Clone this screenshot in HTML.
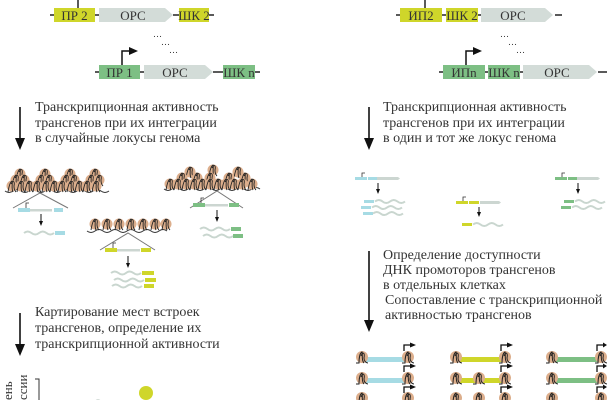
<!DOCTYPE html>
<html><head><meta charset="utf-8"><style>
html,body{margin:0;padding:0;background:#fff;width:607px;height:400px;overflow:hidden}
svg{display:block}
text{font-family:"Liberation Serif",serif;fill:#333}
.t{font-size:14px}
.b{font-size:13px;fill:#333}
</style></head><body>
<svg width="607" height="400" viewBox="0 0 607 400" xmlns="http://www.w3.org/2000/svg">
<defs>
<g id="n"><circle cx="0" cy="0" r="5.5" fill="#dcae8c"/><path d="M-4,6 C-3,0 -2,-4 0,-5 C1,-4 -1,2 1,6 M-1,-2 C1,-6 3,-5 2,0 C2,3 3,5 4,6" stroke="#222" stroke-width="0.9" fill="none"/></g>
<g id="sn"><circle cx="0" cy="0" r="6" fill="#dcae8c"/><path d="M-6,6 L-3,6 C-3,1 -2,-4 0,-5 C1,-3 -1,3 2,6 M-1,-1 C1,-6 3,-4 2,1 C2,4 4,6 6,6" stroke="#222" stroke-width="1" fill="none"/></g>
<path id="w" d="M0,0 q3.75,-3 7.5,0 t7.5,0 t7.5,0 t7.5,0" stroke="#c9d6cf" stroke-width="2" fill="none"/>
</defs>

<g stroke="#222" stroke-width="1.5">
<line x1="78" y1="0" x2="78" y2="8"/>
<line x1="50" y1="15" x2="54" y2="15"/><line x1="95" y1="15" x2="99" y2="15"/><line x1="173" y1="15" x2="179" y2="15"/><line x1="209" y1="15" x2="214" y2="15"/>
<line x1="95" y1="72" x2="99" y2="72"/><line x1="140" y1="72" x2="144" y2="72"/><line x1="213" y1="72" x2="223" y2="72"/><line x1="255" y1="72" x2="260" y2="72"/>
</g>
<rect x="54" y="8" width="41" height="14" fill="#cfd62a"/>
<polygon points="99,8 165,8 173,15 165,22 99,22" fill="#d3dcd8"/>
<rect x="179" y="8" width="30" height="14" fill="#cfd62a"/>
<text class="b" x="74.5" y="20" text-anchor="middle">ПР 2</text>
<text class="b" x="133" y="20" text-anchor="middle">ОРС</text>
<text class="b" x="194" y="20" text-anchor="middle">ШК 2</text>
<rect x="99" y="65" width="41" height="14" fill="#7dbf84"/>
<polygon points="144,65 205,65 213,72 205,79 144,79" fill="#d3dcd8"/>
<rect x="223" y="65" width="32" height="14" fill="#7dbf84"/>
<text class="b" x="119.5" y="77" text-anchor="middle">ПР 1</text>
<text class="b" x="175" y="77" text-anchor="middle">ОРС</text>
<text class="b" x="239" y="77" text-anchor="middle">ШК n</text>
<path d="M122,65 V51 H130" stroke="#111" stroke-width="1.5" fill="none"/><polygon points="129,47 138,51 129,55" fill="#111"/>
<text x="153" y="37" font-size="9">…</text><text x="161" y="45" font-size="9">…</text><text x="169" y="53" font-size="9">…</text>

<g stroke="#222" stroke-width="1.5">
<line x1="425" y1="0" x2="425" y2="8"/>
<line x1="396" y1="15" x2="400" y2="15"/><line x1="442" y1="15" x2="446" y2="15"/><line x1="478" y1="15" x2="481" y2="15"/><line x1="555" y1="15" x2="562" y2="15"/>
<line x1="439" y1="72" x2="443" y2="72"/><line x1="485" y1="72" x2="488" y2="72"/><line x1="520" y1="72" x2="523" y2="72"/><line x1="598" y1="72" x2="607" y2="72"/>
</g>
<rect x="400" y="8" width="42" height="14" fill="#cfd62a"/>
<rect x="446" y="8" width="32" height="14" fill="#cfd62a"/>
<polygon points="481,8 545,8 553,15 545,22 481,22" fill="#d3dcd8"/>
<text class="b" x="421" y="20" text-anchor="middle">ИП2</text>
<text class="b" x="462" y="20" text-anchor="middle">ШК 2</text>
<text class="b" x="513" y="20" text-anchor="middle">ОРС</text>
<rect x="443" y="65" width="42" height="14" fill="#7dbf84"/>
<rect x="488" y="65" width="32" height="14" fill="#7dbf84"/>
<polygon points="523,65 589,65 597,72 589,79 523,79" fill="#d3dcd8"/>
<text class="b" x="464" y="77" text-anchor="middle">ИПn</text>
<text class="b" x="504" y="77" text-anchor="middle">ШК n</text>
<text class="b" x="557" y="77" text-anchor="middle">ОРС</text>
<path d="M466,65 V51 H474" stroke="#111" stroke-width="1.5" fill="none"/><polygon points="473,47 482,51 473,55" fill="#111"/>
<text x="500" y="37" font-size="9">…</text><text x="508" y="45" font-size="9">…</text><text x="516" y="53" font-size="9">…</text>

<g stroke="#111" stroke-width="1.6">
<line x1="20" y1="107" x2="20" y2="140"/><line x1="20" y1="313" x2="20" y2="346"/>
<line x1="369" y1="107" x2="369" y2="140"/><line x1="369" y1="251" x2="369" y2="322"/>
</g>
<polygon points="15,138 25,138 20,150" fill="#111"/>
<polygon points="15,344 25,344 20,356" fill="#111"/>
<polygon points="364,138 374,138 369,150" fill="#111"/>
<polygon points="364,320 374,320 369,332" fill="#111"/>

<text class="t" x="35" y="111">Транскрипционная активность</text>
<text class="t" x="35" y="127">трансгенов при их интеграции</text>
<text class="t" x="35" y="142">в случайные локусы генома</text>
<text class="t" x="383" y="111">Транскрипционная активность</text>
<text class="t" x="383" y="127">трансгенов при их интеграции</text>
<text class="t" x="383" y="142">в один и тот же локус генома</text>
<text class="t" x="35" y="316">Картирование мест встроек</text>
<text class="t" x="35" y="332">трансгенов, определение их</text>
<text class="t" x="35" y="348">транскрипционной активности</text>
<text class="t" x="383" y="259">Определение доступности</text>
<text class="t" x="383" y="274">ДНК промоторов трансгенов</text>
<text class="t" x="383" y="289">в отдельных клетках</text>
<text class="t" x="385" y="304">Сопоставление с транскрипционной</text>
<text class="t" x="385" y="319">активностью трансгенов</text>

<path d="M5,191 q4,3 8,0 t8,0 t8,0 t8,0 t8,0 t8,0 t8,0 t8,0 t8,0 t8,0 t8,0 t8,0 t8,0" stroke="#333" stroke-width="1" fill="none"/>
<g>
<use href="#n" x="20" y="174"/><use href="#n" x="45" y="174"/><use href="#n" x="70" y="174"/><use href="#n" x="95" y="174"/>
<use href="#n" x="16" y="180"/><use href="#n" x="24" y="180"/><use href="#n" x="41" y="180"/><use href="#n" x="49" y="180"/><use href="#n" x="66" y="180"/><use href="#n" x="74" y="180"/><use href="#n" x="91" y="180"/><use href="#n" x="99" y="180"/>
<use href="#n" x="12" y="186"/><use href="#n" x="21" y="186"/><use href="#n" x="29" y="186"/><use href="#n" x="37" y="186"/><use href="#n" x="46" y="186"/><use href="#n" x="54" y="186"/><use href="#n" x="62" y="186"/><use href="#n" x="71" y="186"/><use href="#n" x="79" y="186"/><use href="#n" x="87" y="186"/><use href="#n" x="96" y="186"/>
</g>
<path d="M13,208 L40,193 L68,208" stroke="#777" stroke-width="1" fill="none"/>
<rect x="18" y="208" width="12" height="4" fill="#a6dbe4"/><rect x="30" y="209" width="22" height="2.5" fill="#ccd6d1"/><rect x="54" y="208" width="9" height="4" fill="#a6dbe4"/>
<path d="M26,208 V203 H29" stroke="#333" stroke-width="0.8" fill="none"/>
<line x1="41" y1="214" x2="41" y2="222" stroke="#111"/><polygon points="39,221 43,221 41,226" fill="#111"/>
<use href="#w" x="24" y="233"/><rect x="55" y="231" width="10" height="4" fill="#a6dbe4"/>

<path d="M164,189 q4,3 8,0 t8,0 t8,0 t8,0 t8,0 t8,0 t8,0 t8,0 t8,0 t8,0 t8,0 t8,0" stroke="#333" stroke-width="1" fill="none"/>
<use href="#n" x="190" y="172"/><use href="#n" x="213" y="170"/><use href="#n" x="238" y="172"/>
<use href="#n" x="182" y="178"/><use href="#n" x="197" y="178"/><use href="#n" x="210" y="178"/><use href="#n" x="229" y="178"/><use href="#n" x="245" y="178"/>
<use href="#n" x="170" y="184"/><use href="#n" x="178" y="184"/><use href="#n" x="186" y="184"/><use href="#n" x="194" y="184"/><use href="#n" x="202" y="184"/><use href="#n" x="210" y="184"/><use href="#n" x="218" y="184"/><use href="#n" x="226" y="184"/><use href="#n" x="234" y="184"/><use href="#n" x="242" y="184"/><use href="#n" x="252" y="184"/>
<path d="M190,208 L217,191 L243,208" stroke="#777" stroke-width="1" fill="none"/>
<rect x="193" y="203" width="12" height="4" fill="#7dbf84"/><rect x="205" y="204" width="23" height="2.5" fill="#ccd6d1"/><rect x="229" y="203" width="10" height="4" fill="#7dbf84"/>
<path d="M201,203 V198 H204" stroke="#333" stroke-width="0.8" fill="none"/>
<line x1="217" y1="210" x2="217" y2="218" stroke="#111"/><polygon points="215,217 219,217 217,222" fill="#111"/>
<use href="#w" x="200" y="229"/><rect x="231" y="227" width="10" height="4" fill="#7dbf84"/>
<use href="#w" x="203" y="236"/><rect x="233" y="234" width="10" height="4" fill="#7dbf84"/>

<path d="M87,231 q4,3 8,0 t8,0 t8,0 t8,0 t8,0 t8,0 t8,0 t8,0 t8,0 t8,0" stroke="#333" stroke-width="1" fill="none"/>
<use href="#n" x="95" y="224"/><use href="#n" x="107" y="224"/><use href="#n" x="119" y="224"/><use href="#n" x="131" y="224"/><use href="#n" x="143" y="224"/><use href="#n" x="155" y="224"/><use href="#n" x="166" y="224"/>
<path d="M100,250 L128,233 L155,250" stroke="#777" stroke-width="1" fill="none"/>
<rect x="105" y="248" width="12" height="4" fill="#cfd62a"/><rect x="117" y="249" width="23" height="2.5" fill="#ccd6d1"/><rect x="141" y="248" width="10" height="4" fill="#cfd62a"/>
<path d="M113,248 V243 H116" stroke="#333" stroke-width="0.8" fill="none"/>
<line x1="128" y1="256" x2="128" y2="264" stroke="#111"/><polygon points="126,263 130,263 128,268" fill="#111"/>
<use href="#w" x="111" y="273"/><rect x="142" y="271" width="12" height="4" fill="#cfd62a"/>
<use href="#w" x="114" y="280"/><rect x="145" y="278" width="11" height="4" fill="#cfd62a"/>
<use href="#w" x="112" y="286"/><rect x="144" y="284" width="10" height="4" fill="#cfd62a"/>

<g>
<rect x="355" y="177" width="12" height="3" fill="#a6dbe4"/><rect x="368" y="177" width="9" height="3" fill="#a6dbe4"/><polygon points="377,177 398,177 400,178.5 398,180 377,180" fill="#ccd6d1"/>
<path d="M362,177 V173 H365" stroke="#333" stroke-width="0.8" fill="none"/>
<line x1="378" y1="183" x2="378" y2="190" stroke="#111"/><polygon points="376,189 380,189 378,194" fill="#111"/>
<rect x="364" y="200" width="10" height="3" fill="#a6dbe4"/><use href="#w" x="375" y="201.5"/>
<rect x="361" y="206" width="10" height="3" fill="#a6dbe4"/><use href="#w" x="372" y="207.5"/>
<rect x="363" y="212" width="10" height="3" fill="#a6dbe4"/><use href="#w" x="373" y="213.5"/>

<rect x="456" y="201" width="12" height="3" fill="#cfd62a"/><rect x="469" y="201" width="10" height="3" fill="#cfd62a"/><polygon points="480,201 499,201 501,202.5 499,204 480,204" fill="#ccd6d1"/>
<path d="M463,201 V197 H466" stroke="#333" stroke-width="0.8" fill="none"/>
<line x1="479" y1="207" x2="479" y2="213" stroke="#111"/><polygon points="477,212 481,212 479,217" fill="#111"/>
<rect x="462" y="223" width="10" height="3" fill="#cfd62a"/><use href="#w" x="473" y="224.5"/>

<rect x="555" y="177" width="12" height="3" fill="#7dbf84"/><rect x="568" y="177" width="9" height="3" fill="#7dbf84"/><polygon points="577,177 598,177 600,178.5 598,180 577,180" fill="#ccd6d1"/>
<path d="M562,177 V173 H565" stroke="#333" stroke-width="0.8" fill="none"/>
<line x1="578" y1="183" x2="578" y2="190" stroke="#111"/><polygon points="576,189 580,189 578,194" fill="#111"/>
<rect x="564" y="200" width="10" height="3" fill="#7dbf84"/><use href="#w" x="575" y="201.5"/>
<rect x="561" y="206" width="10" height="3" fill="#7dbf84"/><use href="#w" x="572" y="207.5"/>
</g>

<g>
<rect x="359" y="357" width="48" height="5" fill="#a6dbe4"/><use href="#sn" x="362" y="357"/><use href="#sn" x="408" y="357"/>
<rect x="453" y="357" width="50" height="5" fill="#cfd62a"/><use href="#sn" x="456" y="357"/><use href="#sn" x="505" y="357"/>
<rect x="549" y="357" width="50" height="5" fill="#7dbf84"/><use href="#sn" x="552" y="357"/><use href="#sn" x="601" y="357"/>
</g>
<g>
<rect x="359" y="378" width="48" height="5" fill="#a6dbe4"/><use href="#sn" x="362" y="378"/><use href="#sn" x="408" y="378"/>
<rect x="453" y="378" width="50" height="5" fill="#cfd62a"/><use href="#sn" x="456" y="378"/><use href="#sn" x="479" y="378"/><use href="#sn" x="505" y="378"/>
<rect x="549" y="378" width="50" height="5" fill="#7dbf84"/><use href="#sn" x="552" y="378"/><use href="#sn" x="601" y="378"/>
</g>
<g>
<use href="#sn" x="362" y="398"/><use href="#sn" x="408" y="398"/>
<use href="#sn" x="456" y="398"/><use href="#sn" x="479" y="398"/><use href="#sn" x="505" y="398"/>
<use href="#sn" x="552" y="398"/><use href="#sn" x="601" y="398"/>
</g>
<g stroke="#111" stroke-width="1.3" fill="none">
<path d="M404,351 V345 H411"/><path d="M501,351 V345 H508"/><path d="M597,351 V345 H604"/>
<path d="M404,372 V366 H411"/><path d="M501,372 V366 H508"/><path d="M597,372 V366 H604"/>
<path d="M404,393 V387 H411"/><path d="M501,393 V387 H508"/><path d="M597,393 V387 H604"/>
</g>
<g fill="#111">
<polygon points="410,342.5 416,345 410,347.5"/><polygon points="507,342.5 513,345 507,347.5"/><polygon points="603,342.5 607,345 603,347.5"/>
<polygon points="410,363.5 416,366 410,368.5"/><polygon points="507,363.5 513,366 507,368.5"/><polygon points="603,363.5 607,366 603,368.5"/>
<polygon points="410,384.5 416,387 410,389.5"/><polygon points="507,384.5 513,387 507,389.5"/><polygon points="603,384.5 607,387 603,389.5"/>
</g>

<text class="b" transform="translate(12,400) rotate(-90)" font-size="11">ень</text>
<text class="b" transform="translate(27,400) rotate(-90)" font-size="11">ссии</text>
<path d="M35,379 H39 V400" stroke="#333" stroke-width="1" fill="none"/>
<circle cx="146" cy="393" r="7" fill="#cfd62a"/>
<circle cx="98" cy="402" r="3" fill="#d3dcd8"/>
</svg>
</body></html>
